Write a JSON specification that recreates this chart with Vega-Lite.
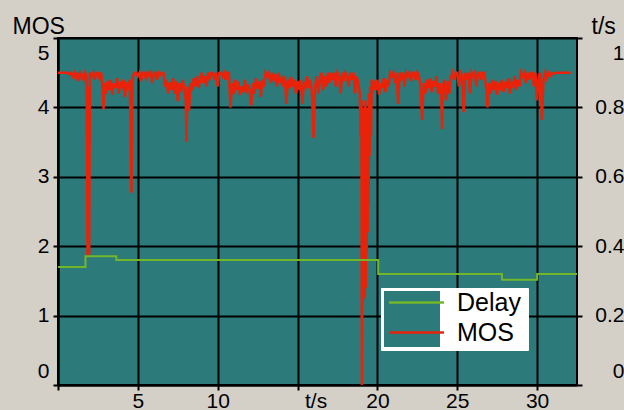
{
  "$schema": "https://vega.github.io/schema/vega-lite/v6.json",
  "width": 519,
  "height": 347,
  "autosize": {"type": "none"},
  "padding": {"left": 58, "top": 38, "right": 47, "bottom": 25},
  "background": "#d4d0c8",
  "datasets": {
    "mos": [
      {"t":0,"m":4.5},{"t":0.6,"m":4.5},{"t":0.7,"m":4.48},{"t":0.8,"m":4.5},{"t":0.9,"m":4.45},{"t":1.0,"m":4.5},{"t":1.1,"m":4.42},{"t":1.2,"m":4.5},{"t":1.3,"m":4.38},{"t":1.4,"m":4.5},{"t":1.5,"m":4.47},{"t":1.6,"m":4.4},{"t":1.7,"m":4.5},{"t":1.8,"m":4.44},{"t":1.85,"m":1.86},{"t":1.9,"m":4.3},{"t":1.95,"m":1.88},{"t":2.0,"m":4.5},{"t":2.1,"m":4.45},{"t":2.2,"m":4.5},{"t":2.3,"m":4.4},{"t":2.4,"m":4.5},{"t":2.5,"m":4.5},{"t":2.6,"m":4.42},{"t":2.7,"m":4.5},{"t":2.8,"m":4.25},{"t":2.85,"m":3.97},{"t":2.9,"m":4.35},{"t":3.0,"m":4.2},{"t":3.1,"m":4.38},{"t":3.2,"m":4.25},{"t":3.3,"m":4.4},{"t":3.4,"m":4.18},{"t":3.5,"m":4.35},{"t":3.6,"m":4.28},{"t":3.7,"m":4.42},{"t":3.8,"m":4.2},{"t":3.9,"m":4.37},{"t":4.0,"m":4.3},{"t":4.1,"m":4.4},{"t":4.2,"m":4.15},{"t":4.3,"m":4.36},{"t":4.4,"m":4.25},{"t":4.5,"m":4.4},{"t":4.6,"m":2.77},{"t":4.65,"m":4.2},{"t":4.7,"m":4.45},{"t":4.8,"m":4.5},{"t":4.9,"m":4.5},{"t":5.0,"m":4.45},{"t":5.1,"m":4.5},{"t":5.2,"m":4.38},{"t":5.3,"m":4.5},{"t":5.4,"m":4.5},{"t":5.5,"m":4.42},{"t":5.6,"m":4.5},{"t":5.7,"m":4.46},{"t":5.8,"m":4.5},{"t":5.9,"m":4.35},{"t":6.0,"m":4.5},{"t":6.1,"m":4.5},{"t":6.2,"m":4.4},{"t":6.3,"m":4.5},{"t":6.4,"m":4.47},{"t":6.5,"m":4.5},{"t":6.6,"m":4.5},{"t":6.7,"m":4.3},{"t":6.8,"m":4.4},{"t":6.9,"m":4.2},{"t":7.0,"m":4.36},{"t":7.1,"m":4.25},{"t":7.2,"m":4.42},{"t":7.3,"m":4.2},{"t":7.4,"m":4.38},{"t":7.5,"m":4.09},{"t":7.6,"m":4.35},{"t":7.7,"m":4.22},{"t":7.8,"m":4.4},{"t":7.9,"m":4.28},{"t":8.0,"m":4.1},{"t":8.05,"m":3.5},{"t":8.1,"m":4.3},{"t":8.2,"m":3.95},{"t":8.3,"m":4.35},{"t":8.4,"m":4.25},{"t":8.5,"m":4.42},{"t":8.6,"m":4.3},{"t":8.7,"m":4.45},{"t":8.8,"m":4.28},{"t":8.9,"m":4.4},{"t":9.0,"m":4.5},{"t":9.1,"m":4.35},{"t":9.2,"m":4.45},{"t":9.3,"m":4.3},{"t":9.4,"m":4.5},{"t":9.5,"m":4.42},{"t":9.6,"m":4.5},{"t":9.7,"m":4.5},{"t":9.8,"m":4.4},{"t":9.9,"m":4.5},{"t":10.0,"m":4.3},{"t":10.1,"m":4.5},{"t":10.2,"m":4.5},{"t":10.3,"m":4.45},{"t":10.4,"m":4.5},{"t":10.5,"m":4.4},{"t":10.6,"m":4.5},{"t":10.7,"m":4.5},{"t":10.8,"m":4.0},{"t":10.9,"m":4.35},{"t":11.0,"m":4.2},{"t":11.1,"m":4.4},{"t":11.2,"m":4.25},{"t":11.3,"m":4.37},{"t":11.4,"m":4.18},{"t":11.5,"m":4.3},{"t":11.6,"m":4.22},{"t":11.7,"m":4.4},{"t":11.8,"m":4.2},{"t":11.9,"m":4.33},{"t":12.0,"m":4.25},{"t":12.1,"m":4.03},{"t":12.2,"m":4.35},{"t":12.3,"m":4.2},{"t":12.4,"m":4.42},{"t":12.5,"m":4.27},{"t":12.6,"m":4.38},{"t":12.7,"m":4.15},{"t":12.8,"m":4.4},{"t":12.9,"m":4.3},{"t":13.0,"m":4.5},{"t":13.1,"m":4.45},{"t":13.2,"m":4.5},{"t":13.3,"m":4.35},{"t":13.4,"m":4.5},{"t":13.5,"m":4.4},{"t":13.6,"m":4.48},{"t":13.7,"m":4.3},{"t":13.8,"m":4.5},{"t":13.9,"m":4.35},{"t":14.0,"m":4.42},{"t":14.1,"m":4.3},{"t":14.2,"m":4.45},{"t":14.3,"m":4.05},{"t":14.4,"m":4.4},{"t":14.5,"m":4.28},{"t":14.6,"m":4.44},{"t":14.7,"m":4.3},{"t":14.8,"m":4.4},{"t":14.9,"m":4.2},{"t":15.0,"m":4.38},{"t":15.1,"m":4.25},{"t":15.2,"m":4.4},{"t":15.3,"m":4.05},{"t":15.4,"m":4.35},{"t":15.5,"m":4.3},{"t":15.6,"m":4.45},{"t":15.7,"m":4.28},{"t":15.8,"m":4.4},{"t":15.9,"m":4.2},{"t":16.0,"m":3.56},{"t":16.1,"m":4.3},{"t":16.2,"m":4.45},{"t":16.3,"m":4.2},{"t":16.4,"m":4.4},{"t":16.5,"m":4.5},{"t":16.6,"m":4.25},{"t":16.7,"m":4.45},{"t":16.8,"m":4.3},{"t":16.9,"m":4.5},{"t":17.0,"m":4.35},{"t":17.1,"m":4.5},{"t":17.2,"m":4.4},{"t":17.3,"m":4.5},{"t":17.4,"m":4.3},{"t":17.5,"m":4.5},{"t":17.6,"m":4.45},{"t":17.7,"m":4.2},{"t":17.8,"m":4.5},{"t":17.9,"m":4.38},{"t":18.0,"m":4.5},{"t":18.1,"m":4.45},{"t":18.2,"m":4.3},{"t":18.3,"m":4.5},{"t":18.4,"m":4.4},{"t":18.5,"m":4.5},{"t":18.6,"m":4.2},{"t":18.7,"m":4.45},{"t":18.8,"m":4.35},
      {"t":18.9,"m":4.2},{"t":18.95,"m":3.6},{"t":19.0,"m":4.1},{"t":19.03,"m":0.0},{"t":19.06,"m":3.9},{"t":19.09,"m":1.2},{"t":19.12,"m":4.0},{"t":19.15,"m":1.3},{"t":19.18,"m":3.8},{"t":19.21,"m":1.25},{"t":19.24,"m":4.1},{"t":19.27,"m":1.4},{"t":19.3,"m":3.9},{"t":19.33,"m":1.9},{"t":19.36,"m":4.0},{"t":19.39,"m":2.2},{"t":19.42,"m":3.9},{"t":19.45,"m":2.6},{"t":19.48,"m":4.2},{"t":19.51,"m":3.3},{"t":19.55,"m":4.3},{"t":19.6,"m":3.6},{"t":19.65,"m":4.4},
      {"t":19.7,"m":4.2},{"t":19.8,"m":4.38},{"t":19.9,"m":4.25},{"t":20.0,"m":4.4},{"t":20.1,"m":4.18},{"t":20.2,"m":4.35},{"t":20.3,"m":4.28},{"t":20.4,"m":4.42},{"t":20.5,"m":4.22},{"t":20.6,"m":4.4},{"t":20.7,"m":4.3},{"t":20.8,"m":4.5},{"t":20.9,"m":4.45},{"t":21.0,"m":4.5},{"t":21.1,"m":4.35},{"t":21.2,"m":4.5},{"t":21.3,"m":4.05},{"t":21.4,"m":4.5},{"t":21.5,"m":4.42},{"t":21.6,"m":4.5},{"t":21.7,"m":4.3},{"t":21.8,"m":4.5},{"t":21.9,"m":4.45},{"t":22.0,"m":4.5},{"t":22.1,"m":4.38},{"t":22.2,"m":4.5},{"t":22.3,"m":4.5},{"t":22.4,"m":4.4},{"t":22.5,"m":4.5},{"t":22.6,"m":4.45},{"t":22.7,"m":4.3},{"t":22.8,"m":3.82},{"t":22.9,"m":4.35},{"t":23.0,"m":4.2},{"t":23.1,"m":4.4},{"t":23.2,"m":4.28},{"t":23.3,"m":4.42},{"t":23.4,"m":4.22},{"t":23.5,"m":4.38},{"t":23.6,"m":4.3},{"t":23.7,"m":4.45},{"t":23.8,"m":4.2},{"t":23.9,"m":4.35},{"t":24.0,"m":4.15},{"t":24.05,"m":3.69},{"t":24.1,"m":4.3},{"t":24.2,"m":4.4},{"t":24.3,"m":4.1},{"t":24.4,"m":4.38},{"t":24.5,"m":4.2},{"t":24.6,"m":4.42},{"t":24.7,"m":4.5},{"t":24.8,"m":4.4},{"t":24.9,"m":4.5},{"t":25.0,"m":4.5},{"t":25.1,"m":4.3},{"t":25.2,"m":4.5},{"t":25.3,"m":4.45},{"t":25.4,"m":3.93},{"t":25.5,"m":4.5},{"t":25.6,"m":4.4},{"t":25.7,"m":4.5},{"t":25.8,"m":4.2},{"t":25.9,"m":4.5},{"t":26.0,"m":4.45},{"t":26.1,"m":4.5},{"t":26.2,"m":4.3},{"t":26.3,"m":4.5},{"t":26.4,"m":4.5},{"t":26.5,"m":4.4},{"t":26.6,"m":4.5},{"t":26.7,"m":4.5},{"t":26.8,"m":4.3},{"t":26.9,"m":4.0},{"t":27.0,"m":4.35},{"t":27.1,"m":4.2},{"t":27.2,"m":4.4},{"t":27.3,"m":4.25},{"t":27.4,"m":4.38},{"t":27.5,"m":4.18},{"t":27.6,"m":4.35},{"t":27.7,"m":4.25},{"t":27.8,"m":4.4},{"t":27.9,"m":4.22},{"t":28.0,"m":4.37},{"t":28.1,"m":4.28},{"t":28.2,"m":4.42},{"t":28.3,"m":4.2},{"t":28.4,"m":4.36},{"t":28.5,"m":4.3},{"t":28.6,"m":4.45},{"t":28.7,"m":4.25},{"t":28.8,"m":4.4},{"t":28.9,"m":4.3},{"t":29.0,"m":4.5},{"t":29.1,"m":4.45},{"t":29.2,"m":4.5},{"t":29.3,"m":4.35},{"t":29.4,"m":4.5},{"t":29.5,"m":4.4},{"t":29.6,"m":4.5},{"t":29.7,"m":4.5},{"t":29.8,"m":4.3},{"t":29.9,"m":4.5},{"t":30.0,"m":4.1},{"t":30.1,"m":4.45},{"t":30.2,"m":4.5},{"t":30.3,"m":3.82},{"t":30.4,"m":4.4},{"t":30.5,"m":4.5},{"t":30.6,"m":4.42},{"t":30.7,"m":4.5},{"t":30.8,"m":4.45},{"t":30.9,"m":4.5},{"t":31.0,"m":4.48},{"t":31.2,"m":4.5},{"t":32.1,"m":4.5}
    ],
    "delay": [
      {"t":0,"d":0.34},{"t":1.72,"d":0.371},{"t":3.65,"d":0.36},{"t":20.05,"d":0.32},{"t":27.8,"d":0.303},{"t":30.0,"d":0.32},{"t":32.5,"d":0.32}
    ]
  },
  "encoding": {
    "x": {
      "field": "t", "type": "quantitative",
      "scale": {"domain": [0, 32.5], "nice": false, "zero": false},
      "axis": {
        "values": [0, 5, 10, 15, 20, 25, 30],
        "grid": true, "gridColor": "black", "gridWidth": 2,
        "title": null,
        "labelFontSize": 21, "labelColor": "black", "labelFont": "Liberation Sans",
        "labelExpr": "datum.value == 0 ? '' : datum.value == 15 ? 't/s' : datum.label",
        "labelOffset": {"condition": {"test": "datum.value == 15", "value": 18}, "value": 0},
        "labelFlush": false,
        "tickSize": 5, "tickWidth": 2, "tickColor": "black",
        "labelPadding": 0,
        "domainColor": "black", "domainWidth": 2
      }
    }
  },
  "layer": [
    {
      "data": {"name": "mos"},
      "mark": {"type": "line", "strokeWidth": 2.5, "interpolate": "linear"},
      "encoding": {
        "y": {
          "field": "m", "type": "quantitative",
          "scale": {"domain": [0, 5], "nice": false, "zero": false},
          "axis": {
            "orient": "left", "values": [0, 1, 2, 3, 4, 5],
            "grid": true, "gridColor": "black", "gridWidth": 2,
            "labelFontSize": 21, "labelColor": "black", "labelFont": "Liberation Sans",
            "labelFlush": true, "labelFlushOffset": -4,
            "tickSize": 5, "tickWidth": 2, "tickColor": "black", "labelPadding": 4,
            "domainColor": "black", "domainWidth": 2,
            "title": "MOS", "titleAngle": 0, "titleX": -46, "titleY": -5,
            "titleAlign": "left", "titleBaseline": "alphabetic",
            "titleFontSize": 23, "titleFontWeight": "normal", "titleFont": "Liberation Sans", "titleColor": "black"
          }
        },
        "color": {
          "datum": "MOS", "type": "nominal",
          "scale": {"domain": ["Delay", "MOS"], "range": ["#72b62a", "#e8230a"]},
          "legend": {
            "orient": "none", "legendX": 325, "legendY": 252, "title": null,
            "symbolType": "M-5,0H5", "symbolSize": 121, "symbolStrokeWidth": 2.5,
            "symbolOffset": 21, "labelFontSize": 25, "labelFont": "Liberation Sans", "labelColor": "black",
            "labelOffset": 28, "padding": 0, "rowPadding": 4, "zindex": 2
          }
        }
      }
    },
    {
      "data": {"name": "delay"},
      "mark": {"type": "line", "strokeWidth": 2, "interpolate": "step-after"},
      "encoding": {
        "y": {
          "field": "d", "type": "quantitative",
          "scale": {"domain": [0, 1], "nice": false, "zero": false},
          "axis": {
            "orient": "right", "values": [0, 0.2, 0.4, 0.6, 0.8, 1], "format": "~g",
            "grid": false, "domain": false,
            "labelFontSize": 21, "labelColor": "black", "labelFont": "Liberation Sans",
            "labelAlign": "right", "labelPadding": 42,
            "labelFlush": true, "labelFlushOffset": -4,
            "tickSize": 5, "tickWidth": 2, "tickColor": "black",
            "title": "t/s", "titleAngle": 0, "titleX": 14, "titleY": -5,
            "titleAlign": "left", "titleBaseline": "alphabetic",
            "titleFontSize": 23, "titleFontWeight": "normal", "titleFont": "Liberation Sans", "titleColor": "black"
          }
        },
        "color": {
          "datum": "Delay", "type": "nominal",
          "scale": {"domain": ["Delay", "MOS"], "range": ["#72b62a", "#e8230a"]}
        }
      }
    },
    {
      "data": {"name": "delay"},
      "mark": {"type": "point", "shape": "square", "filled": true, "opacity": 0},
      "encoding": {
        "y": {"field": "d", "type": "quantitative", "scale": {"domain": [0, 1], "nice": false}, "axis": null},
        "fill": {
          "datum": "box", "type": "nominal",
          "scale": {"range": ["#2d7a7a"]},
          "legend": {
            "orient": "none", "legendX": 323, "legendY": 250, "title": null,
            "symbolType": "square", "symbolSize": 3136, "symbolStrokeWidth": 0,
            "symbolOpacity": 1, "symbolFillColor": "#2d7a7a",
            "fillColor": "white", "strokeColor": "white", "padding": 3,
            "labelExpr": "''", "labelFontSize": 25, "labelOffset": 85,
            "zindex": 1
          }
        }
      }
    }
  ],
  "resolve": {"scale": {"y": "independent"}},
  "config": {
    "font": "Liberation Sans",
    "view": {"fill": "#2d7a7a", "stroke": "black", "strokeWidth": 2}
  }
}
